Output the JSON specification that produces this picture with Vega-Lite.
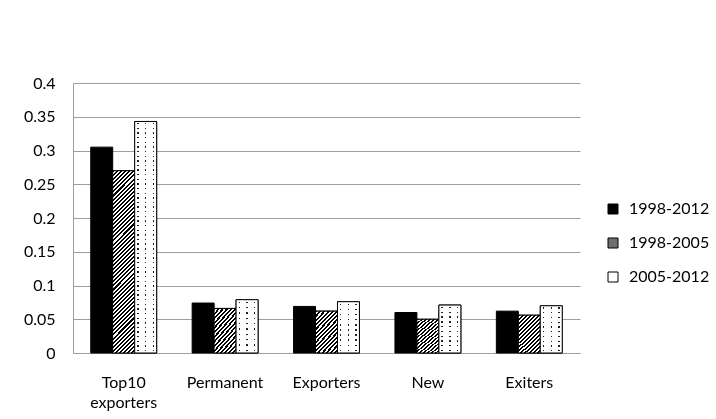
{
  "$schema": "https://vega.github.io/schema/vega-lite/v6.json",
  "width": 507,
  "height": 270,
  "autosize": {"type": "none"},
  "padding": {"left": 73, "top": 83, "right": 136, "bottom": 66},
  "background": "white",
  "data": {
    "values": [
      {"category": "Top10 exporters", "period": "1998-2012", "value": 0.305},
      {"category": "Top10 exporters", "period": "1998-2005", "value": 0.27},
      {"category": "Top10 exporters", "period": "2005-2012", "value": 0.343},
      {"category": "Permanent", "period": "1998-2012", "value": 0.074},
      {"category": "Permanent", "period": "1998-2005", "value": 0.066},
      {"category": "Permanent", "period": "2005-2012", "value": 0.079},
      {"category": "Exporters", "period": "1998-2012", "value": 0.069},
      {"category": "Exporters", "period": "1998-2005", "value": 0.062},
      {"category": "Exporters", "period": "2005-2012", "value": 0.076},
      {"category": "New", "period": "1998-2012", "value": 0.06},
      {"category": "New", "period": "1998-2005", "value": 0.05},
      {"category": "New", "period": "2005-2012", "value": 0.071},
      {"category": "Exiters", "period": "1998-2012", "value": 0.062},
      {"category": "Exiters", "period": "1998-2005", "value": 0.056},
      {"category": "Exiters", "period": "2005-2012", "value": 0.07}
    ]
  },
  "encoding": {
    "x": {
      "field": "category",
      "type": "nominal",
      "sort": ["Top10 exporters", "Permanent", "Exporters", "New", "Exiters"],
      "scale": {"paddingInner": 0.35, "paddingOuter": 0.175},
      "axis": {
        "title": null,
        "ticks": false,
        "labelAngle": 0,
        "labelPadding": 21,
        "labelBaseline": "top",
        "labelLineHeight": 20,
        "labelFontSize": 16,
        "labelColor": "black",
        "domainColor": "#9e9e9e",
        "labelExpr": "datum.value == 'Top10 exporters' ? ['Top10', 'exporters'] : datum.value"
      }
    },
    "xOffset": {
      "field": "period",
      "type": "nominal",
      "sort": ["1998-2012", "1998-2005", "2005-2012"],
      "scale": {"paddingInner": 0}
    },
    "y": {
      "field": "value",
      "type": "quantitative",
      "scale": {"domain": [0, 0.4], "nice": false},
      "axis": {
        "title": null,
        "values": [0, 0.05, 0.1, 0.15, 0.2, 0.25, 0.3, 0.35, 0.4],
        "format": "~g",
        "ticks": false,
        "labelPadding": 18,
        "labelFontSize": 16,
        "labelColor": "black",
        "domainColor": "#9e9e9e",
        "gridColor": "#9e9e9e",
        "gridOpacity": 1
      }
    }
  },
  "layer": [
    {
      "mark": {"type": "bar", "stroke": "black", "strokeWidth": 1},
      "encoding": {
        "color": {
          "field": "period",
          "type": "nominal",
          "scale": {
            "domain": ["1998-2012", "1998-2005", "2005-2012"],
            "range": ["#000000", "#6e6e6e", "#ffffff"]
          },
          "legend": {
            "title": null,
            "orient": "none",
            "legendX": 532,
            "legendY": 118,
            "symbolType": "square",
            "symbolSize": 100,
            "symbolStrokeColor": "black",
            "symbolStrokeWidth": 1,
            "symbolOpacity": 1,
            "labelFontSize": 16,
            "labelColor": "black",
            "labelOffset": 8,
            "rowPadding": 18,
            "encode": {
              "symbols": {
                "update": {
                  "stroke": {"value": "black"},
                  "strokeWidth": {"value": 1}
                }
              }
            }
          }
        }
      }
    },
    {
      "transform": [{"filter": "datum.period === '1998-2005' && datum.category !== 'Top10 exporters'"}],
      "mark": {
        "type": "bar",
        "stroke": "black",
        "strokeWidth": 1,
        "fill": {
          "gradient": "linear", "x1": 0, "y1": 0, "x2": 0.662, "y2": 1.188,
          "stops": [
            {"offset": 0, "color": "#000"}, {"offset": 0.0333, "color": "#000"}, {"offset": 0.0333, "color": "#fff"}, {"offset": 0.0667, "color": "#fff"},
            {"offset": 0.0667, "color": "#000"}, {"offset": 0.1, "color": "#000"}, {"offset": 0.1, "color": "#fff"}, {"offset": 0.1333, "color": "#fff"},
            {"offset": 0.1333, "color": "#000"}, {"offset": 0.1667, "color": "#000"}, {"offset": 0.1667, "color": "#fff"}, {"offset": 0.2, "color": "#fff"},
            {"offset": 0.2, "color": "#000"}, {"offset": 0.2333, "color": "#000"}, {"offset": 0.2333, "color": "#fff"}, {"offset": 0.2667, "color": "#fff"},
            {"offset": 0.2667, "color": "#000"}, {"offset": 0.3, "color": "#000"}, {"offset": 0.3, "color": "#fff"}, {"offset": 0.3333, "color": "#fff"},
            {"offset": 0.3333, "color": "#000"}, {"offset": 0.3667, "color": "#000"}, {"offset": 0.3667, "color": "#fff"}, {"offset": 0.4, "color": "#fff"},
            {"offset": 0.4, "color": "#000"}, {"offset": 0.4333, "color": "#000"}, {"offset": 0.4333, "color": "#fff"}, {"offset": 0.4667, "color": "#fff"},
            {"offset": 0.4667, "color": "#000"}, {"offset": 0.5, "color": "#000"}, {"offset": 0.5, "color": "#fff"}, {"offset": 0.5333, "color": "#fff"},
            {"offset": 0.5333, "color": "#000"}, {"offset": 0.5667, "color": "#000"}, {"offset": 0.5667, "color": "#fff"}, {"offset": 0.6, "color": "#fff"},
            {"offset": 0.6, "color": "#000"}, {"offset": 0.6333, "color": "#000"}, {"offset": 0.6333, "color": "#fff"}, {"offset": 0.6667, "color": "#fff"},
            {"offset": 0.6667, "color": "#000"}, {"offset": 0.7, "color": "#000"}, {"offset": 0.7, "color": "#fff"}, {"offset": 0.7333, "color": "#fff"},
            {"offset": 0.7333, "color": "#000"}, {"offset": 0.7667, "color": "#000"}, {"offset": 0.7667, "color": "#fff"}, {"offset": 0.8, "color": "#fff"},
            {"offset": 0.8, "color": "#000"}, {"offset": 0.8333, "color": "#000"}, {"offset": 0.8333, "color": "#fff"}, {"offset": 0.8667, "color": "#fff"},
            {"offset": 0.8667, "color": "#000"}, {"offset": 0.9, "color": "#000"}, {"offset": 0.9, "color": "#fff"}, {"offset": 0.9333, "color": "#fff"},
            {"offset": 0.9333, "color": "#000"}, {"offset": 0.9667, "color": "#000"}, {"offset": 0.9667, "color": "#fff"}, {"offset": 1, "color": "#fff"}
          ]
        }
      }
    },
    {
      "transform": [{"filter": "datum.period === '1998-2005' && datum.category === 'Top10 exporters'"}],
      "mark": {
        "type": "bar",
        "stroke": "black",
        "strokeWidth": 1,
        "fill": {
          "gradient": "linear", "x1": 0, "y1": 0, "x2": 0.1335, "y2": 1.105,
          "stops": [
            {"offset": 0, "color": "#000"}, {"offset": 0.01, "color": "#000"}, {"offset": 0.01, "color": "#fff"}, {"offset": 0.02, "color": "#fff"},
            {"offset": 0.02, "color": "#000"}, {"offset": 0.03, "color": "#000"}, {"offset": 0.03, "color": "#fff"}, {"offset": 0.04, "color": "#fff"},
            {"offset": 0.04, "color": "#000"}, {"offset": 0.05, "color": "#000"}, {"offset": 0.05, "color": "#fff"}, {"offset": 0.06, "color": "#fff"},
            {"offset": 0.06, "color": "#000"}, {"offset": 0.07, "color": "#000"}, {"offset": 0.07, "color": "#fff"}, {"offset": 0.08, "color": "#fff"},
            {"offset": 0.08, "color": "#000"}, {"offset": 0.09, "color": "#000"}, {"offset": 0.09, "color": "#fff"}, {"offset": 0.10, "color": "#fff"},
            {"offset": 0.10, "color": "#000"}, {"offset": 0.11, "color": "#000"}, {"offset": 0.11, "color": "#fff"}, {"offset": 0.12, "color": "#fff"},
            {"offset": 0.12, "color": "#000"}, {"offset": 0.13, "color": "#000"}, {"offset": 0.13, "color": "#fff"}, {"offset": 0.14, "color": "#fff"},
            {"offset": 0.14, "color": "#000"}, {"offset": 0.15, "color": "#000"}, {"offset": 0.15, "color": "#fff"}, {"offset": 0.16, "color": "#fff"},
            {"offset": 0.16, "color": "#000"}, {"offset": 0.17, "color": "#000"}, {"offset": 0.17, "color": "#fff"}, {"offset": 0.18, "color": "#fff"},
            {"offset": 0.18, "color": "#000"}, {"offset": 0.19, "color": "#000"}, {"offset": 0.19, "color": "#fff"}, {"offset": 0.20, "color": "#fff"},
            {"offset": 0.20, "color": "#000"}, {"offset": 0.21, "color": "#000"}, {"offset": 0.21, "color": "#fff"}, {"offset": 0.22, "color": "#fff"},
            {"offset": 0.22, "color": "#000"}, {"offset": 0.23, "color": "#000"}, {"offset": 0.23, "color": "#fff"}, {"offset": 0.24, "color": "#fff"},
            {"offset": 0.24, "color": "#000"}, {"offset": 0.25, "color": "#000"}, {"offset": 0.25, "color": "#fff"}, {"offset": 0.26, "color": "#fff"},
            {"offset": 0.26, "color": "#000"}, {"offset": 0.27, "color": "#000"}, {"offset": 0.27, "color": "#fff"}, {"offset": 0.28, "color": "#fff"},
            {"offset": 0.28, "color": "#000"}, {"offset": 0.29, "color": "#000"}, {"offset": 0.29, "color": "#fff"}, {"offset": 0.30, "color": "#fff"},
            {"offset": 0.30, "color": "#000"}, {"offset": 0.31, "color": "#000"}, {"offset": 0.31, "color": "#fff"}, {"offset": 0.32, "color": "#fff"},
            {"offset": 0.32, "color": "#000"}, {"offset": 0.33, "color": "#000"}, {"offset": 0.33, "color": "#fff"}, {"offset": 0.34, "color": "#fff"},
            {"offset": 0.34, "color": "#000"}, {"offset": 0.35, "color": "#000"}, {"offset": 0.35, "color": "#fff"}, {"offset": 0.36, "color": "#fff"},
            {"offset": 0.36, "color": "#000"}, {"offset": 0.37, "color": "#000"}, {"offset": 0.37, "color": "#fff"}, {"offset": 0.38, "color": "#fff"},
            {"offset": 0.38, "color": "#000"}, {"offset": 0.39, "color": "#000"}, {"offset": 0.39, "color": "#fff"}, {"offset": 0.40, "color": "#fff"},
            {"offset": 0.40, "color": "#000"}, {"offset": 0.41, "color": "#000"}, {"offset": 0.41, "color": "#fff"}, {"offset": 0.42, "color": "#fff"},
            {"offset": 0.42, "color": "#000"}, {"offset": 0.43, "color": "#000"}, {"offset": 0.43, "color": "#fff"}, {"offset": 0.44, "color": "#fff"},
            {"offset": 0.44, "color": "#000"}, {"offset": 0.45, "color": "#000"}, {"offset": 0.45, "color": "#fff"}, {"offset": 0.46, "color": "#fff"},
            {"offset": 0.46, "color": "#000"}, {"offset": 0.47, "color": "#000"}, {"offset": 0.47, "color": "#fff"}, {"offset": 0.48, "color": "#fff"},
            {"offset": 0.48, "color": "#000"}, {"offset": 0.49, "color": "#000"}, {"offset": 0.49, "color": "#fff"}, {"offset": 0.50, "color": "#fff"},
            {"offset": 0.50, "color": "#000"}, {"offset": 0.51, "color": "#000"}, {"offset": 0.51, "color": "#fff"}, {"offset": 0.52, "color": "#fff"},
            {"offset": 0.52, "color": "#000"}, {"offset": 0.53, "color": "#000"}, {"offset": 0.53, "color": "#fff"}, {"offset": 0.54, "color": "#fff"},
            {"offset": 0.54, "color": "#000"}, {"offset": 0.55, "color": "#000"}, {"offset": 0.55, "color": "#fff"}, {"offset": 0.56, "color": "#fff"},
            {"offset": 0.56, "color": "#000"}, {"offset": 0.57, "color": "#000"}, {"offset": 0.57, "color": "#fff"}, {"offset": 0.58, "color": "#fff"},
            {"offset": 0.58, "color": "#000"}, {"offset": 0.59, "color": "#000"}, {"offset": 0.59, "color": "#fff"}, {"offset": 0.60, "color": "#fff"},
            {"offset": 0.60, "color": "#000"}, {"offset": 0.61, "color": "#000"}, {"offset": 0.61, "color": "#fff"}, {"offset": 0.62, "color": "#fff"},
            {"offset": 0.62, "color": "#000"}, {"offset": 0.63, "color": "#000"}, {"offset": 0.63, "color": "#fff"}, {"offset": 0.64, "color": "#fff"},
            {"offset": 0.64, "color": "#000"}, {"offset": 0.65, "color": "#000"}, {"offset": 0.65, "color": "#fff"}, {"offset": 0.66, "color": "#fff"},
            {"offset": 0.66, "color": "#000"}, {"offset": 0.67, "color": "#000"}, {"offset": 0.67, "color": "#fff"}, {"offset": 0.68, "color": "#fff"},
            {"offset": 0.68, "color": "#000"}, {"offset": 0.69, "color": "#000"}, {"offset": 0.69, "color": "#fff"}, {"offset": 0.70, "color": "#fff"},
            {"offset": 0.70, "color": "#000"}, {"offset": 0.71, "color": "#000"}, {"offset": 0.71, "color": "#fff"}, {"offset": 0.72, "color": "#fff"},
            {"offset": 0.72, "color": "#000"}, {"offset": 0.73, "color": "#000"}, {"offset": 0.73, "color": "#fff"}, {"offset": 0.74, "color": "#fff"},
            {"offset": 0.74, "color": "#000"}, {"offset": 0.75, "color": "#000"}, {"offset": 0.75, "color": "#fff"}, {"offset": 0.76, "color": "#fff"},
            {"offset": 0.76, "color": "#000"}, {"offset": 0.77, "color": "#000"}, {"offset": 0.77, "color": "#fff"}, {"offset": 0.78, "color": "#fff"},
            {"offset": 0.78, "color": "#000"}, {"offset": 0.79, "color": "#000"}, {"offset": 0.79, "color": "#fff"}, {"offset": 0.80, "color": "#fff"},
            {"offset": 0.80, "color": "#000"}, {"offset": 0.81, "color": "#000"}, {"offset": 0.81, "color": "#fff"}, {"offset": 0.82, "color": "#fff"},
            {"offset": 0.82, "color": "#000"}, {"offset": 0.83, "color": "#000"}, {"offset": 0.83, "color": "#fff"}, {"offset": 0.84, "color": "#fff"},
            {"offset": 0.84, "color": "#000"}, {"offset": 0.85, "color": "#000"}, {"offset": 0.85, "color": "#fff"}, {"offset": 0.86, "color": "#fff"},
            {"offset": 0.86, "color": "#000"}, {"offset": 0.87, "color": "#000"}, {"offset": 0.87, "color": "#fff"}, {"offset": 0.88, "color": "#fff"},
            {"offset": 0.88, "color": "#000"}, {"offset": 0.89, "color": "#000"}, {"offset": 0.89, "color": "#fff"}, {"offset": 0.90, "color": "#fff"},
            {"offset": 0.90, "color": "#000"}, {"offset": 0.91, "color": "#000"}, {"offset": 0.91, "color": "#fff"}, {"offset": 0.92, "color": "#fff"},
            {"offset": 0.92, "color": "#000"}, {"offset": 0.93, "color": "#000"}, {"offset": 0.93, "color": "#fff"}, {"offset": 0.94, "color": "#fff"},
            {"offset": 0.94, "color": "#000"}, {"offset": 0.95, "color": "#000"}, {"offset": 0.95, "color": "#fff"}, {"offset": 0.96, "color": "#fff"},
            {"offset": 0.96, "color": "#000"}, {"offset": 0.97, "color": "#000"}, {"offset": 0.97, "color": "#fff"}, {"offset": 0.98, "color": "#fff"},
            {"offset": 0.98, "color": "#000"}, {"offset": 0.99, "color": "#000"}, {"offset": 0.99, "color": "#fff"}, {"offset": 1, "color": "#fff"}
          ]
        }
      }
    },
    {
      "transform": [{"filter": "datum.period === '2005-2012'"}],
      "mark": {
        "type": "bar",
        "strokeWidth": 0,
        "fill": {
          "gradient": "linear", "x1": 0, "y1": 0, "x2": 1, "y2": 0,
          "stops": [
            {"offset": 0.118, "color": "#fff"}, {"offset": 0.118, "color": "#222"}, {"offset": 0.182, "color": "#222"}, {"offset": 0.182, "color": "#fff"},
            {"offset": 0.468, "color": "#fff"}, {"offset": 0.468, "color": "#222"}, {"offset": 0.532, "color": "#222"}, {"offset": 0.532, "color": "#fff"},
            {"offset": 0.818, "color": "#fff"}, {"offset": 0.818, "color": "#222"}, {"offset": 0.882, "color": "#222"}, {"offset": 0.882, "color": "#fff"}
          ]
        }
      }
    },
    {
      "transform": [{"filter": "datum.period === '2005-2012' && datum.category !== 'Top10 exporters'"}],
      "mark": {
        "type": "bar",
        "strokeWidth": 0,
        "blend": "lighten",
        "fill": {
          "gradient": "linear", "x1": 0, "y1": 0, "x2": 0, "y2": 1,
          "stops": [
            {"offset": 0.036, "color": "#fff"}, {"offset": 0.036, "color": "#222"}, {"offset": 0.064, "color": "#222"}, {"offset": 0.064, "color": "#fff"},
            {"offset": 0.136, "color": "#fff"}, {"offset": 0.136, "color": "#222"}, {"offset": 0.164, "color": "#222"}, {"offset": 0.164, "color": "#fff"},
            {"offset": 0.236, "color": "#fff"}, {"offset": 0.236, "color": "#222"}, {"offset": 0.264, "color": "#222"}, {"offset": 0.264, "color": "#fff"},
            {"offset": 0.336, "color": "#fff"}, {"offset": 0.336, "color": "#222"}, {"offset": 0.364, "color": "#222"}, {"offset": 0.364, "color": "#fff"},
            {"offset": 0.436, "color": "#fff"}, {"offset": 0.436, "color": "#222"}, {"offset": 0.464, "color": "#222"}, {"offset": 0.464, "color": "#fff"},
            {"offset": 0.536, "color": "#fff"}, {"offset": 0.536, "color": "#222"}, {"offset": 0.564, "color": "#222"}, {"offset": 0.564, "color": "#fff"},
            {"offset": 0.636, "color": "#fff"}, {"offset": 0.636, "color": "#222"}, {"offset": 0.664, "color": "#222"}, {"offset": 0.664, "color": "#fff"},
            {"offset": 0.736, "color": "#fff"}, {"offset": 0.736, "color": "#222"}, {"offset": 0.764, "color": "#222"}, {"offset": 0.764, "color": "#fff"},
            {"offset": 0.836, "color": "#fff"}, {"offset": 0.836, "color": "#222"}, {"offset": 0.864, "color": "#222"}, {"offset": 0.864, "color": "#fff"},
            {"offset": 0.936, "color": "#fff"}, {"offset": 0.936, "color": "#222"}, {"offset": 0.964, "color": "#222"}, {"offset": 0.964, "color": "#fff"}
          ]
        }
      }
    },
    {
      "transform": [{"filter": "datum.period === '2005-2012' && datum.category === 'Top10 exporters'"}],
      "mark": {
        "type": "bar",
        "strokeWidth": 0,
        "blend": "lighten",
        "fill": {
          "gradient": "linear", "x1": 0, "y1": 0, "x2": 0, "y2": 1,
          "stops": [
            {"offset": 0.007, "color": "#fff"}, {"offset": 0.007, "color": "#222"}, {"offset": 0.013, "color": "#222"}, {"offset": 0.013, "color": "#fff"},
            {"offset": 0.027, "color": "#fff"}, {"offset": 0.027, "color": "#222"}, {"offset": 0.033, "color": "#222"}, {"offset": 0.033, "color": "#fff"},
            {"offset": 0.047, "color": "#fff"}, {"offset": 0.047, "color": "#222"}, {"offset": 0.053, "color": "#222"}, {"offset": 0.053, "color": "#fff"},
            {"offset": 0.067, "color": "#fff"}, {"offset": 0.067, "color": "#222"}, {"offset": 0.073, "color": "#222"}, {"offset": 0.073, "color": "#fff"},
            {"offset": 0.087, "color": "#fff"}, {"offset": 0.087, "color": "#222"}, {"offset": 0.093, "color": "#222"}, {"offset": 0.093, "color": "#fff"},
            {"offset": 0.107, "color": "#fff"}, {"offset": 0.107, "color": "#222"}, {"offset": 0.113, "color": "#222"}, {"offset": 0.113, "color": "#fff"},
            {"offset": 0.127, "color": "#fff"}, {"offset": 0.127, "color": "#222"}, {"offset": 0.133, "color": "#222"}, {"offset": 0.133, "color": "#fff"},
            {"offset": 0.147, "color": "#fff"}, {"offset": 0.147, "color": "#222"}, {"offset": 0.153, "color": "#222"}, {"offset": 0.153, "color": "#fff"},
            {"offset": 0.167, "color": "#fff"}, {"offset": 0.167, "color": "#222"}, {"offset": 0.173, "color": "#222"}, {"offset": 0.173, "color": "#fff"},
            {"offset": 0.187, "color": "#fff"}, {"offset": 0.187, "color": "#222"}, {"offset": 0.193, "color": "#222"}, {"offset": 0.193, "color": "#fff"},
            {"offset": 0.207, "color": "#fff"}, {"offset": 0.207, "color": "#222"}, {"offset": 0.213, "color": "#222"}, {"offset": 0.213, "color": "#fff"},
            {"offset": 0.227, "color": "#fff"}, {"offset": 0.227, "color": "#222"}, {"offset": 0.233, "color": "#222"}, {"offset": 0.233, "color": "#fff"},
            {"offset": 0.247, "color": "#fff"}, {"offset": 0.247, "color": "#222"}, {"offset": 0.253, "color": "#222"}, {"offset": 0.253, "color": "#fff"},
            {"offset": 0.267, "color": "#fff"}, {"offset": 0.267, "color": "#222"}, {"offset": 0.273, "color": "#222"}, {"offset": 0.273, "color": "#fff"},
            {"offset": 0.287, "color": "#fff"}, {"offset": 0.287, "color": "#222"}, {"offset": 0.293, "color": "#222"}, {"offset": 0.293, "color": "#fff"},
            {"offset": 0.307, "color": "#fff"}, {"offset": 0.307, "color": "#222"}, {"offset": 0.313, "color": "#222"}, {"offset": 0.313, "color": "#fff"},
            {"offset": 0.327, "color": "#fff"}, {"offset": 0.327, "color": "#222"}, {"offset": 0.333, "color": "#222"}, {"offset": 0.333, "color": "#fff"},
            {"offset": 0.347, "color": "#fff"}, {"offset": 0.347, "color": "#222"}, {"offset": 0.353, "color": "#222"}, {"offset": 0.353, "color": "#fff"},
            {"offset": 0.367, "color": "#fff"}, {"offset": 0.367, "color": "#222"}, {"offset": 0.373, "color": "#222"}, {"offset": 0.373, "color": "#fff"},
            {"offset": 0.387, "color": "#fff"}, {"offset": 0.387, "color": "#222"}, {"offset": 0.393, "color": "#222"}, {"offset": 0.393, "color": "#fff"},
            {"offset": 0.407, "color": "#fff"}, {"offset": 0.407, "color": "#222"}, {"offset": 0.413, "color": "#222"}, {"offset": 0.413, "color": "#fff"},
            {"offset": 0.427, "color": "#fff"}, {"offset": 0.427, "color": "#222"}, {"offset": 0.433, "color": "#222"}, {"offset": 0.433, "color": "#fff"},
            {"offset": 0.447, "color": "#fff"}, {"offset": 0.447, "color": "#222"}, {"offset": 0.453, "color": "#222"}, {"offset": 0.453, "color": "#fff"},
            {"offset": 0.467, "color": "#fff"}, {"offset": 0.467, "color": "#222"}, {"offset": 0.473, "color": "#222"}, {"offset": 0.473, "color": "#fff"},
            {"offset": 0.487, "color": "#fff"}, {"offset": 0.487, "color": "#222"}, {"offset": 0.493, "color": "#222"}, {"offset": 0.493, "color": "#fff"},
            {"offset": 0.507, "color": "#fff"}, {"offset": 0.507, "color": "#222"}, {"offset": 0.513, "color": "#222"}, {"offset": 0.513, "color": "#fff"},
            {"offset": 0.527, "color": "#fff"}, {"offset": 0.527, "color": "#222"}, {"offset": 0.533, "color": "#222"}, {"offset": 0.533, "color": "#fff"},
            {"offset": 0.547, "color": "#fff"}, {"offset": 0.547, "color": "#222"}, {"offset": 0.553, "color": "#222"}, {"offset": 0.553, "color": "#fff"},
            {"offset": 0.567, "color": "#fff"}, {"offset": 0.567, "color": "#222"}, {"offset": 0.573, "color": "#222"}, {"offset": 0.573, "color": "#fff"},
            {"offset": 0.587, "color": "#fff"}, {"offset": 0.587, "color": "#222"}, {"offset": 0.593, "color": "#222"}, {"offset": 0.593, "color": "#fff"},
            {"offset": 0.607, "color": "#fff"}, {"offset": 0.607, "color": "#222"}, {"offset": 0.613, "color": "#222"}, {"offset": 0.613, "color": "#fff"},
            {"offset": 0.627, "color": "#fff"}, {"offset": 0.627, "color": "#222"}, {"offset": 0.633, "color": "#222"}, {"offset": 0.633, "color": "#fff"},
            {"offset": 0.647, "color": "#fff"}, {"offset": 0.647, "color": "#222"}, {"offset": 0.653, "color": "#222"}, {"offset": 0.653, "color": "#fff"},
            {"offset": 0.667, "color": "#fff"}, {"offset": 0.667, "color": "#222"}, {"offset": 0.673, "color": "#222"}, {"offset": 0.673, "color": "#fff"},
            {"offset": 0.687, "color": "#fff"}, {"offset": 0.687, "color": "#222"}, {"offset": 0.693, "color": "#222"}, {"offset": 0.693, "color": "#fff"},
            {"offset": 0.707, "color": "#fff"}, {"offset": 0.707, "color": "#222"}, {"offset": 0.713, "color": "#222"}, {"offset": 0.713, "color": "#fff"},
            {"offset": 0.727, "color": "#fff"}, {"offset": 0.727, "color": "#222"}, {"offset": 0.733, "color": "#222"}, {"offset": 0.733, "color": "#fff"},
            {"offset": 0.747, "color": "#fff"}, {"offset": 0.747, "color": "#222"}, {"offset": 0.753, "color": "#222"}, {"offset": 0.753, "color": "#fff"},
            {"offset": 0.767, "color": "#fff"}, {"offset": 0.767, "color": "#222"}, {"offset": 0.773, "color": "#222"}, {"offset": 0.773, "color": "#fff"},
            {"offset": 0.787, "color": "#fff"}, {"offset": 0.787, "color": "#222"}, {"offset": 0.793, "color": "#222"}, {"offset": 0.793, "color": "#fff"},
            {"offset": 0.807, "color": "#fff"}, {"offset": 0.807, "color": "#222"}, {"offset": 0.813, "color": "#222"}, {"offset": 0.813, "color": "#fff"},
            {"offset": 0.827, "color": "#fff"}, {"offset": 0.827, "color": "#222"}, {"offset": 0.833, "color": "#222"}, {"offset": 0.833, "color": "#fff"},
            {"offset": 0.847, "color": "#fff"}, {"offset": 0.847, "color": "#222"}, {"offset": 0.853, "color": "#222"}, {"offset": 0.853, "color": "#fff"},
            {"offset": 0.867, "color": "#fff"}, {"offset": 0.867, "color": "#222"}, {"offset": 0.873, "color": "#222"}, {"offset": 0.873, "color": "#fff"},
            {"offset": 0.887, "color": "#fff"}, {"offset": 0.887, "color": "#222"}, {"offset": 0.893, "color": "#222"}, {"offset": 0.893, "color": "#fff"},
            {"offset": 0.907, "color": "#fff"}, {"offset": 0.907, "color": "#222"}, {"offset": 0.913, "color": "#222"}, {"offset": 0.913, "color": "#fff"},
            {"offset": 0.927, "color": "#fff"}, {"offset": 0.927, "color": "#222"}, {"offset": 0.933, "color": "#222"}, {"offset": 0.933, "color": "#fff"},
            {"offset": 0.947, "color": "#fff"}, {"offset": 0.947, "color": "#222"}, {"offset": 0.953, "color": "#222"}, {"offset": 0.953, "color": "#fff"},
            {"offset": 0.967, "color": "#fff"}, {"offset": 0.967, "color": "#222"}, {"offset": 0.973, "color": "#222"}, {"offset": 0.973, "color": "#fff"},
            {"offset": 0.987, "color": "#fff"}, {"offset": 0.987, "color": "#222"}, {"offset": 0.993, "color": "#222"}, {"offset": 0.993, "color": "#fff"}
          ]
        }
      }
    },
    {
      "transform": [{"filter": "datum.period === '2005-2012'"}],
      "mark": {"type": "bar", "fill": "white", "fillOpacity": 0, "stroke": "black", "strokeWidth": 1}
    }
  ],
  "config": {"view": {"stroke": null}, "font": "Lato"}
}
